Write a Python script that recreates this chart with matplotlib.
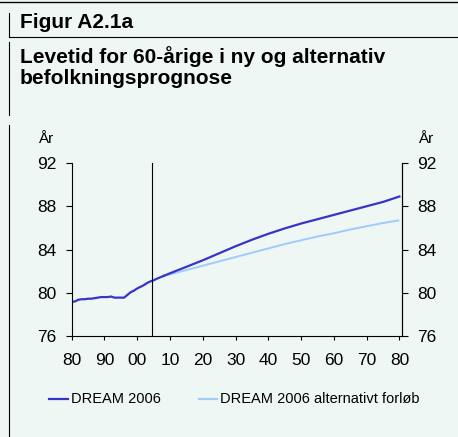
import matplotlib
matplotlib.use("Agg")
import matplotlib.pyplot as plt
from matplotlib.lines import Line2D

# ---- data ----
hist_years = [1980, 1981, 1982, 1983, 1984, 1985, 1986, 1987, 1988, 1989, 1990,
              1991, 1992, 1993, 1994, 1995, 1996, 1997, 1998, 1999, 2000, 2001,
              2002, 2003, 2004, 2005, 2006, 2008]
hist_values = [79.15, 79.2, 79.35, 79.4, 79.4, 79.45, 79.45, 79.5, 79.55, 79.6, 79.6,
               79.6, 79.65, 79.55, 79.55, 79.55, 79.55, 79.8, 80.05, 80.2, 80.4, 80.55,
               80.7, 80.9, 81.05, 81.15, 81.3, 81.55]
proj_years = [2008, 2010, 2015, 2020, 2025, 2030, 2035, 2040, 2045, 2050, 2055,
              2060, 2065, 2070, 2075, 2080]
dream_values = [81.55, 81.8, 82.4, 83.0, 83.65, 84.3, 84.9, 85.45, 85.95, 86.4, 86.8,
                87.2, 87.6, 88.0, 88.4, 88.9]
alt_values = [81.55, 81.7, 82.1, 82.5, 82.9, 83.3, 83.7, 84.1, 84.5, 84.85, 85.2,
              85.5, 85.85, 86.15, 86.45, 86.7]
x_ticks = [1980, 1990, 2000, 2010, 2020, 2030, 2040, 2050, 2060, 2070, 2080]
x_labels = ["80", "90", "00", "10", "20", "30", "40", "50", "60", "70", "80"]
y_ticks = [76, 80, 84, 88, 92]
series_names = ["DREAM 2006", "DREAM 2006 alternativt forløb"]
title_fig = "Figur A2.1a"
title_line1 = "Levetid for 60-årige i ny og alternativ"
title_line2 = "befolkningsprognose"
unit = "År"
split_year = 2004.5

# ---- style ----
BG = "#eff7f4"
DARK = "#3535c8"
LIGHT = "#9fcbff"
plt.rcParams['font.family'] = ['Liberation Sans', 'DejaVu Sans']

W, H = 458, 437
fig = plt.figure(figsize=(W / 100, H / 100), dpi=100, facecolor=BG)

def fx(px):
    return px / W

def fy(py):
    return 1 - py / H

# frame lines
fig.add_artist(Line2D([0, 1], [fy(1.5), fy(1.5)], color="black", lw=1.0))
fig.add_artist(Line2D([fx(9), 1], [fy(37), fy(37)], color="black", lw=0.8))
fig.add_artist(Line2D([fx(9), fx(9)], [fy(13), fy(37)], color="black", lw=0.8))
fig.add_artist(Line2D([fx(9), fx(9)], [fy(42), fy(115)], color="black", lw=0.8))
fig.add_artist(Line2D([fx(9), fx(9)], [fy(125), fy(437)], color="black", lw=0.8))

fig.text(fx(20), fy(28.5), title_fig, fontsize=15, fontweight="bold", va="baseline", ha="left")
fig.text(fx(20), fy(63), title_line1, fontsize=15, fontweight="bold", va="baseline", ha="left")
fig.text(fx(20), fy(84.5), title_line2, fontsize=15, fontweight="bold", va="baseline", ha="left")

ax = fig.add_axes([fx(71.7), fy(336), fx(402) - fx(71.7), fy(163) - fy(336)])
ax.set_facecolor(BG)
ax.plot(proj_years, alt_values, color=LIGHT, lw=1.4, solid_capstyle="butt")
ax.plot(hist_years, hist_values, color=DARK, lw=1.6)
ax.plot(proj_years, dream_values, color=DARK, lw=1.6)
ax.axvline(split_year, color="black", lw=0.8)

ax.set_xlim(1980, 2080.8)
ax.set_ylim(76, 92)
ax.set_xticks(x_ticks)
ax.set_xticklabels(x_labels)
ax.set_yticks(y_ticks)
ax.spines["top"].set_visible(False)
for s in ["left", "bottom", "right"]:
    ax.spines[s].set_linewidth(0.8)
ax.tick_params(axis="x", direction="out", length=3, width=0.8, labelsize=12.5, pad=9)
ax.tick_params(axis="y", direction="out", length=4, width=0.8, labelsize=12.5, pad=7)

ax2 = ax.twinx()
ax2.set_ylim(76, 92)
ax2.set_yticks(y_ticks)
ax2.spines["top"].set_visible(False)
ax2.spines["left"].set_visible(False)
ax2.spines["bottom"].set_visible(False)
ax2.spines["right"].set_linewidth(0.8)
ax2.tick_params(axis="y", direction="out", length=4, width=0.8, labelsize=12.5, pad=7)

fig.text(fx(38), fy(143), unit, fontsize=11, va="baseline", ha="left")
fig.text(fx(418), fy(143), unit, fontsize=11, va="baseline", ha="left")

# legend
ly = fy(399)
fig.add_artist(Line2D([fx(49), fx(68)], [ly, ly], color=DARK, lw=1.6))
fig.text(fx(71), ly, series_names[0], fontsize=10.5, va="center", ha="left")
fig.add_artist(Line2D([fx(199), fx(217)], [ly, ly], color=LIGHT, lw=1.6))
fig.text(fx(220), ly, series_names[1], fontsize=10.5, va="center", ha="left")

fig.savefig("out.png", dpi=100, facecolor=BG)
